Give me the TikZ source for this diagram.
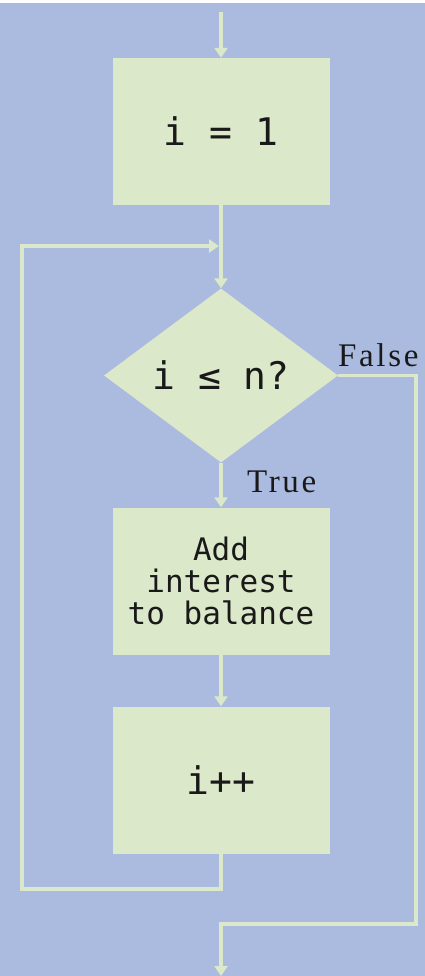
\documentclass[tikz,border=0pt]{standalone}
\usepackage{fontspec}
\usetikzlibrary{shapes.geometric,arrows.meta}
\newfontfamily\monofam{DejaVu Sans Mono}
\newfontfamily\lblfam[LetterSpace=8]{Liberation Serif}
\definecolor{bgblue}{RGB}{171,187,223}
\definecolor{boxgreen}{RGB}{219,232,201}
\definecolor{inkc}{RGB}{25,25,25}
\begin{document}
\begin{tikzpicture}[x=1pt,y=-1pt,
  stepbox/.style={rectangle,fill=boxgreen,minimum width=217pt,minimum height=147pt,inner sep=0pt,
    text=inkc,align=center},
  bigtxt/.style={font=\monofam\fontsize{38}{40}\selectfont},
  smalltxt/.style={font=\monofam\fontsize{31}{32}\selectfont},
  decision/.style={diamond,fill=boxgreen,minimum width=234pt,minimum height=174pt,inner sep=0pt,
    aspect=1.345,text=inkc},
  lbl/.style={font=\lblfam\fontsize{33}{36}\selectfont,text=inkc,inner sep=0pt},
  conn/.style={draw=boxgreen,line width=3.4pt},
  arr/.style={conn,-{Triangle[length=10pt,width=13pt]}}]
\useasboundingbox (0,0) rectangle (425,976);
\fill[bgblue] (0,3) rectangle (425,976);
\fill[white] (0,0) rectangle (425,3);

\coordinate (start) at (221,12);
\node[stepbox,bigtxt] (init) at (221,131.5) {i = 1};
\node[decision,bigtxt] (test) at (221,375.5) {i ≤ n?};
\node[stepbox,smalltxt] (add) at (221,581) {Add\\interest\\to balance};
\node[stepbox,bigtxt] (inc) at (221,780) {i++};
\coordinate (join) at (219,246);
\coordinate (finish) at (221,976);

\node[lbl,anchor=base west] (falselbl) at (338,366) {False};
\node[lbl,anchor=base west] (truelbl) at (247,492) {True};

\draw[arr] (start) -- (init.north);
\draw[arr] (init.south) -- (test.north);
\draw[arr] (test.south) -- (add.north);
\draw[arr] (add.south) -- (inc.north);
\draw[arr] (inc.south) -- (221,889) -- (22,889) -- (22,246) -- (join);
\draw[arr] (test.east) -- (416,375.5) -- (416,924) -- (221,924) -- (finish);
\end{tikzpicture}
\end{document}
